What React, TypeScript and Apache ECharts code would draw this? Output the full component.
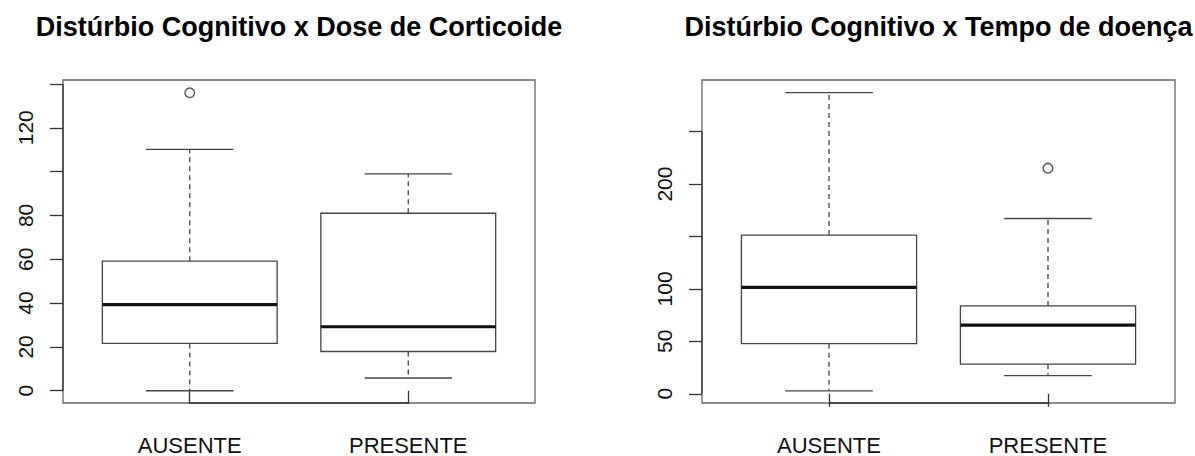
import React, { useEffect, useRef } from "react";
import * as echarts from "echarts";

const categories = ["AUSENTE", "PRESENTE"];

// [min whisker, Q1, median, Q3, max whisker]
const doseAusente = [0, 21.6, 39.3, 59.1, 110.1];
const dosePresente = [5.8, 17.9, 29.2, 81.0, 99.0];
const doseOutliers = [[1, 136]];
const doseTicks = [0, 20, 40, 60, 80, 100, 120, 140];
const doseLabels = [0, 20, 40, 60, 80, 120];
const doseRange = [-5.6, 141.8];

const tempoAusente = [2.8, 47.8, 101.4, 151.4, 287.3];
const tempoPresente = [17.4, 28.2, 65.4, 83.8, 167.2];
const tempoOutliers = [[2, 215.2]];
const tempoTicks = [0, 50, 100, 150, 200, 250];
const tempoLabels = [0, 50, 100, 200];
const tempoRange = [-8.8, 299.3];

const xRange = [0.42, 2.58];
const catPos = [1, 2];

const titles = [
  "Distúrbio Cognitivo x Dose de Corticoide",
  "Distúrbio Cognitivo x Tempo de doença",
];

const FONT = '"Liberation Sans", Arial, Helvetica, sans-serif';
const BOX_COLOR = "#444";
const AXIS_COLOR = "#333";

function renderBox(_params: any, api: any) {
  const x = api.value(0);
  const lo = api.value(1);
  const q1 = api.value(2);
  const med = api.value(3);
  const q3 = api.value(4);
  const hi = api.value(5);
  const w = api.size([0.8, 0])[0];
  const hw = w / 2;
  const cx = api.coord([x, med])[0];
  const yLo = api.coord([x, lo])[1];
  const yQ1 = api.coord([x, q1])[1];
  const yMed = api.coord([x, med])[1];
  const yQ3 = api.coord([x, q3])[1];
  const yHi = api.coord([x, hi])[1];
  const thin = { stroke: BOX_COLOR, lineWidth: 1.3, fill: "none" };
  const dashed = { stroke: BOX_COLOR, lineWidth: 1.3, lineDash: [5, 4] };
  return {
    type: "group",
    children: [
      { type: "line", shape: { x1: cx, y1: yQ3, x2: cx, y2: yHi }, style: dashed },
      { type: "line", shape: { x1: cx, y1: yQ1, x2: cx, y2: yLo }, style: dashed },
      { type: "line", shape: { x1: cx - hw / 2, y1: yHi, x2: cx + hw / 2, y2: yHi }, style: thin },
      { type: "line", shape: { x1: cx - hw / 2, y1: yLo, x2: cx + hw / 2, y2: yLo }, style: thin },
      {
        type: "rect",
        shape: { x: cx - hw, y: yQ3, width: w, height: yQ1 - yQ3 },
        style: { stroke: BOX_COLOR, lineWidth: 1.3, fill: "#fff" },
      },
      {
        type: "line",
        shape: { x1: cx - hw, y1: yMed, x2: cx + hw, y2: yMed },
        style: { stroke: "#111", lineWidth: 3.2 },
      },
    ],
  };
}

function makeAxisSegments(ticks: number[], yMin: number) {
  return function (_params: any, api: any) {
    const a = api.coord([xRange[0], ticks[0]]);
    const b = api.coord([xRange[0], ticks[ticks.length - 1]]);
    const c = api.coord([catPos[0], yMin]);
    const d = api.coord([catPos[catPos.length - 1], yMin]);
    const st = { stroke: AXIS_COLOR, lineWidth: 1.3 };
    return {
      type: "group",
      children: [
        { type: "line", shape: { x1: a[0], y1: a[1], x2: b[0], y2: b[1] }, style: st },
        { type: "line", shape: { x1: c[0], y1: c[1], x2: d[0], y2: d[1] }, style: st },
      ],
    };
  };
}

export default function App() {
  const ref = useRef<HTMLDivElement>(null);
  useEffect(() => {
    if (!ref.current) return;
    const chart = echarts.init(ref.current, undefined, { renderer: "svg" });

    const grids = [
      { left: 63, top: 80, width: 472, height: 325 },
      { left: 702, top: 80, width: 473, height: 325 },
    ];
    const yConf = [
      { ticks: doseTicks, labels: doseLabels, range: doseRange },
      { ticks: tempoTicks, labels: tempoLabels, range: tempoRange },
    ];
    const boxData = [
      [doseAusente, dosePresente],
      [tempoAusente, tempoPresente],
    ];
    const outliers = [doseOutliers, tempoOutliers];

    const series: any[] = [];
    [0, 1].forEach((i) => {
      series.push({
        type: "custom",
        xAxisIndex: i,
        yAxisIndex: i,
        renderItem: renderBox,
        encode: { x: 0, y: [1, 2, 3, 4, 5] },
        data: boxData[i].map((s, k) => [catPos[k], ...s]),
        z: 2,
      });
      series.push({
        type: "custom",
        xAxisIndex: i,
        yAxisIndex: i,
        renderItem: makeAxisSegments(yConf[i].ticks, yConf[i].range[0]),
        encode: { x: 0, y: 1 },
        data: [[catPos[0], yConf[i].ticks[0]]],
        z: 3,
        silent: true,
      });
      series.push({
        type: "scatter",
        xAxisIndex: i,
        yAxisIndex: i,
        data: outliers[i],
        symbol: "circle",
        symbolSize: 9.5,
        itemStyle: { color: "#fff", borderColor: "#333", borderWidth: 1.5 },
        z: 4,
      });
    });

    chart.setOption({
      animation: false,
      grid: grids.map((g) => ({
        ...g,
        show: true,
        borderColor: "#666",
        borderWidth: 1.3,
        backgroundColor: "transparent",
      })),
      xAxis: [0, 1].map((i) => ({
        type: "value",
        gridIndex: i,
        min: xRange[0],
        max: xRange[1],
        axisLine: { show: false },
        splitLine: { show: false },
        axisTick: {
          show: true,
          length: 13,
          customValues: catPos,
          lineStyle: { color: AXIS_COLOR, width: 1.3 },
        },
        axisLabel: {
          customValues: catPos,
          formatter: (v: number) => categories[Math.round(v) - 1] ?? "",
          margin: 31,
          fontSize: 22,
          fontFamily: FONT,
          color: "#111",
        },
      })),
      yAxis: [0, 1].map((i) => ({
        type: "value",
        gridIndex: i,
        min: yConf[i].range[0],
        max: yConf[i].range[1],
        axisLine: { show: false },
        splitLine: { show: false },
        axisTick: {
          show: true,
          length: 13,
          customValues: yConf[i].ticks,
          lineStyle: { color: AXIS_COLOR, width: 1.3 },
        },
        axisLabel: {
          customValues: yConf[i].labels,
          rotate: 90,
          margin: 27,
          fontSize: 21,
          fontFamily: FONT,
          color: "#111",
        },
      })),
      graphic: titles.map((t, i) => ({
        type: "text",
        x: grids[i].left + grids[i].width / 2,
        y: 27,
        style: {
          text: t,
          fontSize: 27,
          fontWeight: "bold",
          fontFamily: FONT,
          fill: "#000",
          align: "center",
          verticalAlign: "middle",
        },
      })),
      series,
    });
    return () => chart.dispose();
  }, []);
  return (
    <div
      ref={ref}
      style={{ position: "absolute", left: 0, top: 0, width: 1195, height: 456, background: "#fff" }}
    />
  );
}
